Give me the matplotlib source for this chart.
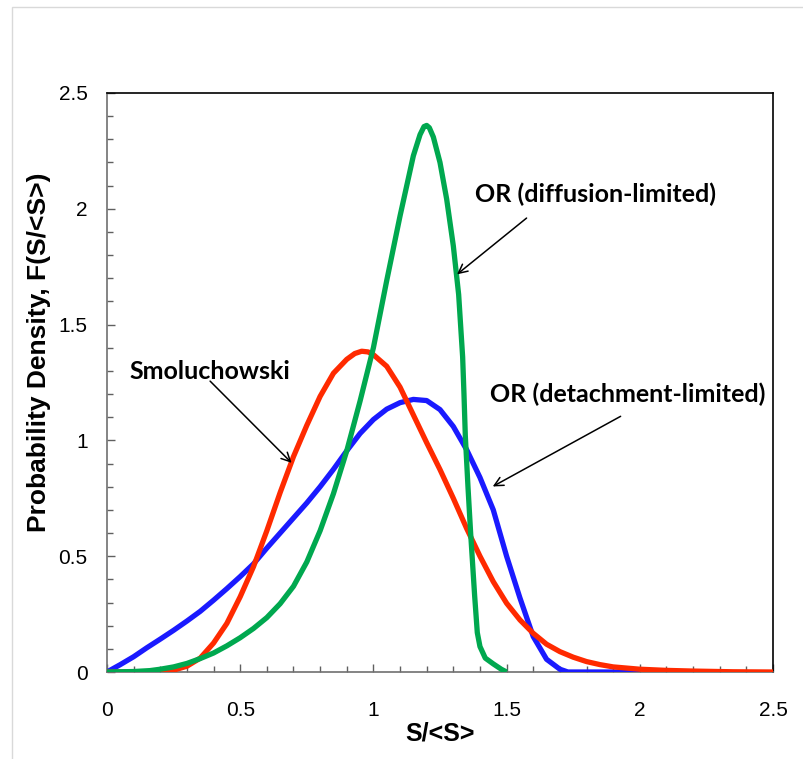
import matplotlib
matplotlib.use("Agg")
import matplotlib.pyplot as plt
from matplotlib.patches import Rectangle
from matplotlib.ticker import MultipleLocator

# ---- data ----
smol_x = [0.0, 0.10, 0.15, 0.20, 0.25, 0.30, 0.35, 0.40, 0.45, 0.50, 0.55, 0.60, 0.65,
          0.70, 0.75, 0.80, 0.85, 0.90, 0.93, 0.956, 0.98, 1.0, 1.05, 1.10, 1.15, 1.20,
          1.25, 1.30, 1.35, 1.40, 1.45, 1.50, 1.55, 1.60, 1.65, 1.70, 1.75, 1.80, 1.85,
          1.90, 2.0, 2.1, 2.2, 2.35, 2.5]
smol_y = [0.0, 0.0, 0.0, 0.002, 0.008, 0.025, 0.06, 0.125, 0.21, 0.325, 0.455, 0.61, 0.775,
          0.93, 1.065, 1.19, 1.29, 1.35, 1.375, 1.385, 1.382, 1.37, 1.32, 1.23, 1.11, 0.99,
          0.874, 0.75, 0.62, 0.50, 0.39, 0.297, 0.225, 0.167, 0.12, 0.088, 0.064, 0.045, 0.032,
          0.022, 0.012, 0.007, 0.004, 0.001, 0.0]

det_x = [0.0, 0.05, 0.10, 0.15, 0.20, 0.25, 0.30, 0.35, 0.40, 0.45, 0.50, 0.55, 0.60, 0.65,
         0.70, 0.75, 0.80, 0.85, 0.90, 0.95, 1.0, 1.05, 1.10, 1.15, 1.20, 1.25, 1.30, 1.35,
         1.40, 1.45, 1.50, 1.55, 1.60, 1.65, 1.70, 1.73, 2.0]
det_y = [0.0, 0.032, 0.066, 0.105, 0.142, 0.18, 0.22, 0.262, 0.31, 0.36, 0.412, 0.467, 0.535,
         0.60, 0.665, 0.73, 0.80, 0.875, 0.955, 1.03, 1.09, 1.135, 1.163, 1.177, 1.172,
         1.133, 1.06, 0.96, 0.84, 0.70, 0.50, 0.32, 0.153, 0.055, 0.012, 0.0, 0.0]

dif_x = [0.0, 0.10, 0.161, 0.20, 0.25, 0.30, 0.35, 0.40, 0.45, 0.50, 0.55, 0.60, 0.65, 0.70,
         0.75, 0.80, 0.85, 0.90, 0.95, 1.0, 1.05, 1.10, 1.15, 1.175, 1.19, 1.20, 1.21, 1.225,
         1.25, 1.275, 1.30, 1.32, 1.335, 1.34, 1.345, 1.355, 1.365, 1.38, 1.39, 1.40, 1.42,
         1.45, 1.48, 1.50]
dif_y = [0.0, 0.002, 0.006, 0.012, 0.022, 0.037, 0.058, 0.082, 0.113, 0.148, 0.188, 0.235,
         0.295, 0.37, 0.475, 0.61, 0.77, 0.955, 1.17, 1.40, 1.69, 1.969, 2.229, 2.32, 2.355,
         2.36, 2.35, 2.31, 2.20, 2.042, 1.84, 1.63, 1.36, 1.20, 1.02, 0.80, 0.60, 0.33, 0.17,
         0.11, 0.06, 0.035, 0.012, 0.0]

x_ticks = [0, 0.5, 1, 1.5, 2, 2.5]
x_tick_labels = ["0", "0.5", "1", "1.5", "2", "2.5"]
y_ticks = [0, 0.5, 1, 1.5, 2, 2.5]
y_tick_labels = ["0", "0.5", "1", "1.5", "2", "2.5"]

labels = ["Smoluchowski", "OR (detachment-limited)", "OR (diffusion-limited)"]
label_pos = [(0.086, 1.298), (1.438, 1.198), (1.381, 2.063)]
arrow_tail = [(0.387, 1.256), (1.928, 1.104), (1.575, 1.960)]
arrow_head = [(0.693, 0.903), (1.448, 0.801), (1.314, 1.717)]

# ---- figure ----
fig = plt.figure(figsize=(8.04, 7.59), dpi=100)
ax = fig.add_axes([107/804, 1-672/759, 666/804, (672-93)/759])

fig.patches.append(Rectangle((12/804, -0.1), 2.0, 1.1 - 7/759, transform=fig.transFigure,
                             fill=False, edgecolor="#d9d9d9", linewidth=1.0))

ax.plot(det_x, det_y, color="#1a1aff", lw=3.8, solid_capstyle="butt", zorder=3)
ax.plot(smol_x, smol_y, color="#ff2a00", lw=3.8, solid_capstyle="butt", zorder=4)
ax.plot(dif_x, dif_y, color="#00a84f", lw=3.8, solid_capstyle="butt", zorder=5)

ax.set_xlim(0, 2.5)
ax.set_ylim(0, 2.5)
ax.set_xticks(x_ticks)
ax.set_xticklabels(x_tick_labels)
ax.set_yticks(y_ticks)
ax.set_yticklabels(y_tick_labels)
ax.xaxis.set_minor_locator(MultipleLocator(0.1))
ax.yaxis.set_minor_locator(MultipleLocator(0.1))

for lab in ax.get_xticklabels() + ax.get_yticklabels():
    lab.set_fontfamily("Liberation Sans")
    lab.set_fontsize(15)
ax.tick_params(axis="both", which="major", direction="in", length=6, width=1,
               color="#606060", top=False, right=False)
ax.tick_params(axis="both", which="minor", direction="in", length=4, width=1,
               color="#606060", top=False, right=False)
ax.tick_params(axis="x", which="major", pad=21)
ax.tick_params(axis="y", which="major", pad=14)

for s in ["top", "right"]:
    ax.spines[s].set_color("black")
for s in ["left", "bottom"]:
    ax.spines[s].set_color("#707070")
for s in ax.spines.values():
    s.set_linewidth(1.2)

ax.set_xlabel("S/<S>", fontfamily="Liberation Sans", fontweight="bold", fontsize=18, labelpad=1)
ax.set_ylabel("Probability Density, F(S/<S>)", fontfamily="Liberation Sans",
              fontweight="bold", fontsize=19)
ax.yaxis.set_label_coords(-0.084, 0.553)

for text, (tx, ty), tail, head in zip(labels, label_pos, arrow_tail, arrow_head):
    ax.text(tx, ty, text, fontfamily="Lato", fontweight="bold", fontsize=18,
            ha="left", va="center", zorder=6)
    ax.annotate("", xy=head, xytext=tail,
                arrowprops=dict(arrowstyle="->", color="black", lw=1.1,
                                mutation_scale=16, shrinkA=0, shrinkB=0), zorder=6)

fig.savefig("out.png", dpi=100)
